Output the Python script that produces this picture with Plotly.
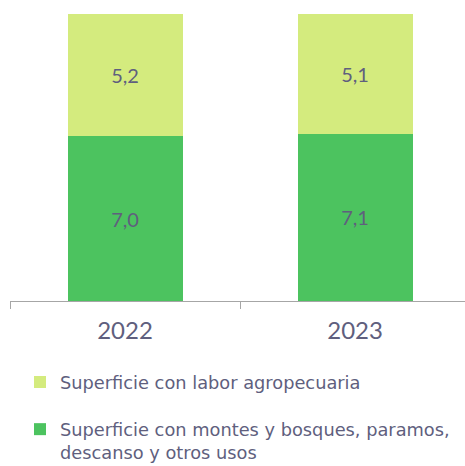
import plotly.graph_objects as go

years = ["2022", "2023"]
montes = [7.0, 7.1]
labor = [5.2, 5.1]
name_labor = "Superficie con labor agropecuaria"
name_montes = "Superficie con montes y bosques, paramos,<br>descanso y otros usos"

TXT = "#5F5F7E"
FONT = "Lato"
LFONT = "DejaVu Sans"

fig = go.Figure()
fig.add_trace(go.Bar(
    x=years, y=montes, name=name_montes, marker_color="#4CC35F",
    marker_line_width=0, texttemplate="%{y:.1f}", textposition="inside",
    insidetextanchor="middle", textfont=dict(size=20, color=TXT, family=FONT),
    legendgroup="b", legendrank=2,
))
fig.add_trace(go.Bar(
    x=years, y=labor, name=name_labor, marker_color="#D4EB7E",
    marker_line_width=0, texttemplate="%{y:.1f}", textposition="inside",
    insidetextanchor="middle", textfont=dict(size=20, color=TXT, family=FONT),
    legendgroup="a", legendrank=1,
))

fig.update_layout(
    width=465, height=466,
    barmode="stack", bargap=0.5,
    separators=",.",
    plot_bgcolor="white", paper_bgcolor="white",
    margin=dict(l=10, r=0, t=14, b=165),
    font=dict(family=FONT, color=TXT),
    xaxis=dict(
        type="category", range=[-0.5, 1.478],
        showline=True, linecolor="#A6A6A6", linewidth=1,
        ticks="outside", tickson="boundaries", ticklen=7, tickcolor="#A6A6A6",
        tickfont=dict(size=24, color=TXT, family=FONT), showgrid=False,
        ticklabelstandoff=8,
    ),
    yaxis=dict(range=[0, 12.2], visible=False, showgrid=False),
    showlegend=True,
    legend=dict(
        orientation="v", xref="paper", x=0.022, xanchor="left",
        yref="container", y=0.219, yanchor="top",
        font=dict(size=17.8, color=TXT, family=LFONT),
        tracegroupgap=21, valign="top", traceorder="grouped",
    ),
)

fig.write_html("out.html", post_script="document.body.style.margin='0';",
               config={"displayModeBar": False})
